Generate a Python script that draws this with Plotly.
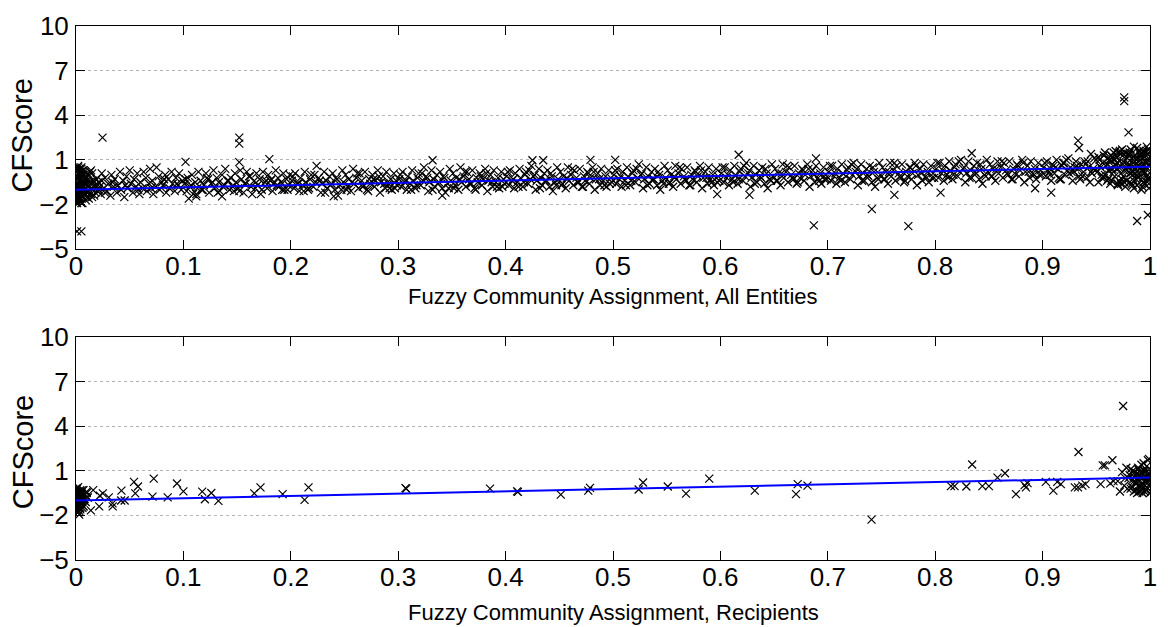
import plotly.graph_objects as go
from plotly.subplots import make_subplots

# ---------------- data: all entities (upper panel) ----------------
ent_x_a = [0.001, 0.002, 0.003, 0.001, 0.004, 0.002, 0.005, 0.003, 0.006, 0.002,
           0.001, 0.004, 0.003, 0.007, 0.002, 0.005, 0.001, 0.008, 0.004, 0.006,
           0.003, 0.002, 0.009, 0.005, 0.001, 0.007, 0.004, 0.010, 0.006, 0.002,
           0.011, 0.003, 0.008, 0.012, 0.005, 0.013, 0.009, 0.014, 0.007, 0.015,
           0.016, 0.010, 0.017, 0.012, 0.018, 0.011, 0.019, 0.014, 0.020, 0.016]
ent_y_a = [-1.9, 0.5, -0.4, -1.2, 0.2, -1.6, -0.8, 0.0, -1.4, -0.2,
           -0.6, -1.8, 0.4, -1.0, -1.3, 0.1, -0.9, -0.5, -1.5, 0.3,
           -1.1, -0.1, -1.3, -0.7, -1.5, 0.0, -0.3, -1.2, -0.9, -0.6,
           -0.4, -1.7, 0.2, -1.1, -1.4, -0.5, -0.2, -1.3, -0.8, 0.1,
           -1.0, -0.6, -1.4, 0.0, -0.7, -1.2, -0.3, -0.9, -1.1, -0.4]

ent_x_m = [0.000, 0.001, 0.002, 0.003, 0.004, 0.005, 0.006, 0.007, 0.008, 0.009,
           0.000, 0.001, 0.002, 0.003, 0.004, 0.005, 0.006, 0.007, 0.008, 0.010,
           0.001, 0.003, 0.005, 0.007, 0.009, 0.011, 0.013, 0.015, 0.017, 0.019,
           0.002, 0.004, 0.006, 0.008, 0.012, 0.014, 0.018, 0.021, 0.024, 0.027]
ent_y_m = [-1.7, 0.3, -1.0, -0.2, -1.6, 0.4, -0.5, -1.2, 0.0, -1.7,
           -0.8, -1.4, 0.6, -0.9, -0.1, -1.9, -1.1, 0.3, -0.6, -1.5,
           -0.3, -1.6, 0.5, -1.3, -0.2, -0.8, 0.2, -1.5, -0.5, -0.8,
           0.1, -1.0, -1.9, -0.3, -1.6, 0.3, -1.2, -1.0, -0.4, -1.2]

ent_x_b = [0.021, 0.023, 0.024, 0.026, 0.027, 0.029, 0.030, 0.032, 0.033, 0.035,
           0.036, 0.038, 0.039, 0.041, 0.042, 0.044, 0.045, 0.047, 0.048, 0.050,
           0.051, 0.053, 0.054, 0.056, 0.057, 0.059, 0.060, 0.062, 0.063, 0.065,
           0.066, 0.068, 0.069, 0.071, 0.072, 0.074, 0.075, 0.077, 0.078, 0.080,
           0.081, 0.083, 0.084, 0.086, 0.087, 0.089, 0.090, 0.092, 0.093, 0.095,
           0.096, 0.098, 0.099, 0.022, 0.034, 0.046, 0.058, 0.070, 0.082, 0.094]
ent_y_b = [-0.5, -1.3, 0.1, -0.9, -0.2, -1.1, -0.6, -1.4, 0.0, -0.8,
           -0.3, -1.2, -0.7, 0.2, -1.0, -0.4, -1.5, -0.1, -0.9, 0.3,
           -0.6, -1.2, -0.3, -0.8, 0.1, -1.3, -0.5, -0.9, 0.2, -0.2,
           -1.1, -0.6, 0.4, -0.4, -1.3, -0.8, 0.5, -0.1, -1.0, -0.5,
           -0.7, 0.0, -1.2, -0.3, -0.9, 0.2, -0.6, -1.1, -0.2, -0.7,
           0.1, -1.0, -0.4, -0.8, -0.5, -0.7, -1.0, -0.9, -0.3, -0.6]

ent_x_c = [0.101, 0.103, 0.104, 0.106, 0.108, 0.109, 0.111, 0.113, 0.114, 0.116,
           0.118, 0.119, 0.121, 0.123, 0.124, 0.126, 0.128, 0.129, 0.131, 0.133,
           0.134, 0.136, 0.138, 0.139, 0.141, 0.143, 0.144, 0.146, 0.148, 0.149,
           0.151, 0.153, 0.154, 0.156, 0.158, 0.159, 0.161, 0.163, 0.164, 0.166,
           0.168, 0.169, 0.171, 0.173, 0.174, 0.176, 0.178, 0.179, 0.181, 0.183,
           0.184, 0.186, 0.188, 0.189, 0.191, 0.193, 0.194, 0.196, 0.198, 0.199]
ent_y_c = [-0.6, -1.1, -0.2, -0.8, 0.0, -1.3, -0.5, -0.9, 0.2, -0.4,
           -1.0, -0.7, 0.1, -0.3, -1.2, -0.6, 0.3, -0.9, -0.2, -0.5,
           -1.1, 0.0, -0.7, 0.4, -0.4, -1.0, -0.2, -0.8, 0.1, -0.5,
           -0.9, 0.3, -0.3, -1.2, -0.6, 0.2, -0.1, -0.8, -1.3, -0.4,
           0.1, -0.7, -0.3, -1.0, 0.2, -0.5, -0.9, 0.0, -0.4, -1.1,
           -0.6, 0.3, -0.2, -0.8, -0.5, 0.1, -1.0, -0.3, -0.7, 0.0]

ent_x_d = [0.201, 0.203, 0.204, 0.206, 0.208, 0.209, 0.211, 0.213, 0.214, 0.216,
           0.218, 0.219, 0.221, 0.223, 0.224, 0.226, 0.228, 0.229, 0.231, 0.233,
           0.234, 0.236, 0.238, 0.239, 0.241, 0.243, 0.244, 0.246, 0.248, 0.249,
           0.251, 0.253, 0.254, 0.256, 0.258, 0.259, 0.261, 0.263, 0.264, 0.266,
           0.268, 0.269, 0.271, 0.273, 0.274, 0.276, 0.278, 0.279, 0.281, 0.283,
           0.284, 0.286, 0.288, 0.289, 0.291, 0.293, 0.294, 0.296, 0.298, 0.299]
ent_y_d = [-0.4, -0.9, 0.1, -0.6, -1.1, -0.2, -0.7, 0.2, -0.5, -1.0,
           -0.3, 0.0, -0.8, -0.5, 0.6, -0.2, -1.2, -0.6, 0.2, -0.4,
           -0.9, -0.1, -0.6, 0.1, -1.0, -0.3, -1.4, -0.7, 0.3, -0.5,
           0.0, -0.8, -0.3, -1.1, 0.4, -0.6, -0.2, -0.9, 0.1, -0.4,
           -0.7, 0.2, -1.0, -0.3, -0.6, 0.0, -0.8, -0.4, 0.3, -1.2,
           -0.5, -0.1, -0.9, 0.2, -0.6, -0.3, -1.0, 0.1, -0.4, -0.7]

ent_x_e = [0.301, 0.303, 0.304, 0.306, 0.308, 0.309, 0.311, 0.313, 0.314, 0.316,
           0.318, 0.319, 0.321, 0.323, 0.324, 0.326, 0.328, 0.329, 0.331, 0.333,
           0.334, 0.336, 0.338, 0.339, 0.341, 0.343, 0.344, 0.346, 0.348, 0.349,
           0.351, 0.353, 0.354, 0.356, 0.358, 0.359, 0.361, 0.363, 0.364, 0.366,
           0.368, 0.369, 0.371, 0.373, 0.374, 0.376, 0.378, 0.379, 0.381, 0.383,
           0.384, 0.386, 0.388, 0.389, 0.391, 0.393, 0.394, 0.396, 0.398, 0.399]
ent_y_e = [-0.3, -0.8, 0.2, -0.5, -1.0, -0.1, -0.6, 0.3, -0.4, -0.9,
           -0.2, 0.1, -0.7, -0.4, 0.5, -0.1, -1.1, -0.5, 0.3, -0.3,
           -0.8, 0.0, -0.5, 0.2, -0.9, -0.2, -1.2, -0.6, 0.4, -0.4,
           0.1, -0.7, -0.2, -1.0, 0.5, -0.5, -0.1, -0.8, 0.2, -0.3,
           -0.6, 0.3, -0.9, -0.2, -0.5, 0.1, -0.7, -0.3, 0.4, -1.1,
           -0.4, 0.0, -0.8, 0.3, -0.5, -0.2, -0.9, 0.2, -0.3, -0.6]

ent_x_f = [0.401, 0.403, 0.404, 0.406, 0.408, 0.409, 0.411, 0.413, 0.414, 0.416,
           0.418, 0.419, 0.421, 0.423, 0.424, 0.426, 0.428, 0.429, 0.431, 0.433,
           0.434, 0.436, 0.438, 0.439, 0.441, 0.443, 0.444, 0.446, 0.448, 0.449,
           0.451, 0.453, 0.454, 0.456, 0.458, 0.459, 0.461, 0.463, 0.464, 0.466,
           0.468, 0.469, 0.471, 0.473, 0.474, 0.476, 0.478, 0.479, 0.481, 0.483,
           0.484, 0.486, 0.488, 0.489, 0.491, 0.493, 0.494, 0.496, 0.498, 0.499]
ent_y_f = [-0.1, -0.7, 0.3, -0.4, -0.9, 0.1, -0.5, 0.4, -0.2, -0.8,
           0.0, 0.2, -0.6, -0.3, 0.6, -0.1, -1.0, -0.4, 0.4, -0.2,
           -0.7, 0.1, -0.4, 0.3, -0.8, -0.1, -1.1, -0.5, 0.5, -0.3,
           0.2, -0.6, -0.1, -0.9, 0.5, -0.4, 0.0, -0.7, 0.3, -0.2,
           -0.5, 0.4, -0.8, -0.1, -0.4, 0.2, -0.6, -0.2, 0.5, -1.0,
           -0.3, 0.1, -0.7, 0.4, -0.4, -0.1, -0.8, 0.3, -0.2, -0.5]

ent_x_g = [0.501, 0.503, 0.504, 0.506, 0.508, 0.509, 0.511, 0.513, 0.514, 0.516,
           0.518, 0.519, 0.521, 0.523, 0.524, 0.526, 0.528, 0.529, 0.531, 0.533,
           0.534, 0.536, 0.538, 0.539, 0.541, 0.543, 0.544, 0.546, 0.548, 0.549,
           0.551, 0.553, 0.554, 0.556, 0.558, 0.559, 0.561, 0.563, 0.564, 0.566,
           0.568, 0.569, 0.571, 0.573, 0.574, 0.576, 0.578, 0.579, 0.581, 0.583,
           0.584, 0.586, 0.588, 0.589, 0.591, 0.593, 0.594, 0.596, 0.598, 0.599]
ent_y_g = [0.0, -0.6, 0.4, -0.3, -0.8, 0.2, -0.4, 0.5, -0.1, -0.7,
           0.1, 0.3, -0.5, -0.2, 0.7, 0.0, -0.9, -0.3, 0.5, -0.1,
           -0.6, 0.2, -0.3, 0.4, -0.7, 0.0, -1.0, -0.4, 0.6, -0.2,
           0.3, -0.5, 0.0, -0.8, 0.6, -0.3, 0.1, -0.6, 0.4, -0.1,
           -0.4, 0.5, -0.7, 0.0, -0.3, 0.3, -0.5, -0.1, 0.6, -0.9,
           -0.2, 0.2, -0.6, 0.5, -0.3, 0.0, -0.7, 0.4, -0.1, -0.4]

ent_x_h = [0.601, 0.603, 0.604, 0.606, 0.608, 0.609, 0.611, 0.613, 0.614, 0.616,
           0.618, 0.619, 0.621, 0.623, 0.624, 0.626, 0.628, 0.629, 0.631, 0.633,
           0.634, 0.636, 0.638, 0.639, 0.641, 0.643, 0.644, 0.646, 0.648, 0.649,
           0.651, 0.653, 0.654, 0.656, 0.658, 0.659, 0.661, 0.663, 0.664, 0.666,
           0.668, 0.669, 0.671, 0.673, 0.674, 0.676, 0.678, 0.679, 0.681, 0.683,
           0.684, 0.686, 0.688, 0.689, 0.691, 0.693, 0.694, 0.696, 0.698, 0.699]
ent_y_h = [0.1, -0.5, 0.5, -0.2, -0.7, 0.3, -0.3, 0.6, 0.0, -0.6,
           0.2, 0.4, -0.4, -0.1, 0.8, 0.1, -0.8, -0.2, 0.6, 0.0,
           -0.5, 0.3, -0.2, 0.5, -0.6, 0.1, -0.9, -0.3, 0.7, -0.1,
           0.4, -0.4, 0.1, -0.7, 0.7, -0.2, 0.2, -0.5, 0.5, 0.0,
           -0.3, 0.6, -0.6, 0.1, -0.2, 0.4, -0.4, 0.0, 0.7, -0.8,
           -0.1, 0.3, -0.5, 0.6, -0.2, 0.1, -0.6, 0.5, 0.0, -0.3]

ent_x_i = [0.701, 0.703, 0.704, 0.706, 0.708, 0.709, 0.711, 0.713, 0.714, 0.716,
           0.718, 0.719, 0.721, 0.723, 0.724, 0.726, 0.728, 0.729, 0.731, 0.733,
           0.734, 0.736, 0.738, 0.739, 0.741, 0.743, 0.744, 0.746, 0.748, 0.749,
           0.751, 0.753, 0.754, 0.756, 0.758, 0.759, 0.761, 0.763, 0.764, 0.766,
           0.768, 0.769, 0.771, 0.773, 0.774, 0.776, 0.778, 0.779, 0.781, 0.783,
           0.784, 0.786, 0.788, 0.789, 0.791, 0.793, 0.794, 0.796, 0.798, 0.799]
ent_y_i = [0.2, -0.4, 0.6, -0.1, -0.6, 0.4, -0.2, 0.7, 0.1, -0.5,
           0.3, 0.5, -0.3, 0.0, 0.8, 0.2, -0.7, -0.1, 0.7, 0.1,
           -0.4, 0.4, -0.1, 0.6, -0.5, 0.2, -0.8, -0.2, 0.8, 0.0,
           0.5, -0.3, 0.2, -0.6, 0.8, -0.1, 0.3, -0.4, 0.6, 0.1,
           -0.2, 0.7, -0.5, 0.2, -0.1, 0.5, -0.3, 0.1, 0.8, -0.7,
           0.0, 0.4, -0.4, 0.7, -0.1, 0.2, -0.5, 0.6, 0.1, -0.2]

ent_x_j = [0.801, 0.803, 0.804, 0.806, 0.808, 0.809, 0.811, 0.813, 0.814, 0.816,
           0.818, 0.819, 0.821, 0.823, 0.824, 0.826, 0.828, 0.829, 0.831, 0.833,
           0.834, 0.836, 0.838, 0.839, 0.841, 0.843, 0.844, 0.846, 0.848, 0.849,
           0.851, 0.853, 0.854, 0.856, 0.858, 0.859, 0.861, 0.863, 0.864, 0.866,
           0.868, 0.869, 0.871, 0.873, 0.874, 0.876, 0.878, 0.879, 0.881, 0.883,
           0.884, 0.886, 0.888, 0.889, 0.891, 0.893, 0.894, 0.896, 0.898, 0.899]
ent_y_j = [0.4, -0.2, 0.8, 0.1, -0.4, 0.6, 0.0, 0.9, 0.3, -0.3,
           0.5, 0.7, -0.1, 0.2, 1.0, 0.4, -0.5, 0.1, 0.9, 0.3,
           -0.2, 0.6, 0.1, 0.8, -0.3, 0.4, -0.6, 0.0, 1.0, 0.2,
           0.7, -0.1, 0.4, -0.4, 0.9, 0.1, 0.5, -0.2, 0.8, 0.3,
           0.0, 0.9, -0.3, 0.4, 0.1, 0.7, -0.1, 0.3, 1.0, -0.5,
           0.2, 0.6, -0.2, 0.9, 0.1, 0.4, -0.3, 0.8, 0.3, 0.0]

# extra entities in the band between 0.1 and 0.9
ent_x_o = [0.107, 0.117, 0.127, 0.137, 0.147, 0.157, 0.167, 0.177, 0.187, 0.197,
           0.207, 0.217, 0.227, 0.237, 0.247, 0.257, 0.267, 0.277, 0.287, 0.297,
           0.307, 0.317, 0.327, 0.337, 0.347, 0.357, 0.367, 0.377, 0.387, 0.397,
           0.407, 0.417, 0.427, 0.437, 0.447, 0.457, 0.467, 0.477, 0.487, 0.497,
           0.507, 0.517, 0.527, 0.537, 0.547, 0.557, 0.567, 0.577, 0.587, 0.597,
           0.607, 0.617, 0.627, 0.637, 0.647, 0.657, 0.667, 0.677, 0.687, 0.697,
           0.707, 0.717, 0.727, 0.737, 0.747, 0.757, 0.767, 0.777, 0.787, 0.797,
           0.807, 0.817, 0.827, 0.837, 0.847, 0.857, 0.867, 0.877, 0.887, 0.897]
ent_y_o = [-0.7, -1.0, -0.5, -0.8, -1.1, -0.6, -0.9, -0.4, -0.7, -1.0,
           -0.6, -0.9, -0.4, -0.7, -1.0, -0.5, -0.8, -0.3, -0.6, -0.9,
           -0.4, -0.7, -0.2, -0.6, -0.9, -0.3, -0.6, -0.1, -0.5, -0.8,
           -0.3, -0.5, 0.0, -0.4, -0.7, -0.2, -0.5, 0.1, -0.3, -0.6,
           -0.1, -0.4, 0.1, -0.3, -0.6, -0.1, -0.3, 0.2, -0.2, -0.5,
           0.0, -0.3, 0.3, -0.1, -0.4, 0.1, -0.2, 0.3, 0.0, -0.3,
           0.1, -0.1, 0.4, 0.0, -0.3, 0.2, -0.1, 0.5, 0.1, -0.2,
           0.3, 0.0, 0.5, 0.2, -0.1, 0.4, 0.1, 0.6, 0.2, 0.0]

ent_x_p = [0.102, 0.112, 0.122, 0.132, 0.142, 0.152, 0.162, 0.172, 0.182, 0.192,
           0.202, 0.212, 0.222, 0.232, 0.242, 0.252, 0.262, 0.272, 0.282, 0.292,
           0.302, 0.312, 0.322, 0.332, 0.342, 0.352, 0.362, 0.372, 0.382, 0.392,
           0.402, 0.412, 0.422, 0.432, 0.442, 0.452, 0.462, 0.472, 0.482, 0.492,
           0.502, 0.512, 0.522, 0.532, 0.542, 0.552, 0.562, 0.572, 0.582, 0.592,
           0.602, 0.612, 0.622, 0.632, 0.642, 0.652, 0.662, 0.672, 0.682, 0.692,
           0.702, 0.712, 0.722, 0.732, 0.742, 0.752, 0.762, 0.772, 0.782, 0.792,
           0.802, 0.812, 0.822, 0.832, 0.842, 0.852, 0.862, 0.872, 0.882, 0.892]
ent_y_p = [-0.3, -1.3, -0.2, -1.2, -0.4, -1.1, -0.1, -1.3, -0.3, -1.0,
           -0.1, -1.1, 0.0, -1.2, -0.2, -1.0, 0.1, -1.1, -0.1, -0.9,
           0.0, -1.0, 0.1, -1.0, -0.1, -0.9, 0.2, -1.0, 0.1, -0.8,
           0.2, -0.8, 0.3, -0.9, 0.1, -0.7, 0.4, -0.8, 0.2, -0.7,
           0.3, -0.7, 0.4, -0.7, 0.2, -0.6, 0.5, -0.7, 0.3, -0.5,
           0.5, -0.5, 0.6, -0.6, 0.4, -0.4, 0.6, -0.5, 0.4, -0.4,
           0.6, -0.4, 0.7, -0.4, 0.5, -0.3, 0.8, -0.4, 0.6, -0.2,
           0.8, -0.2, 0.9, -0.2, 0.7, -0.1, 0.9, -0.3, 0.8, 0.0]

ent_x_k = [0.901, 0.903, 0.904, 0.906, 0.908, 0.909, 0.911, 0.913, 0.914, 0.916,
           0.918, 0.919, 0.921, 0.923, 0.924, 0.926, 0.928, 0.929, 0.931, 0.933,
           0.934, 0.936, 0.938, 0.939, 0.941, 0.943, 0.944, 0.946, 0.948, 0.949,
           0.902, 0.907, 0.912, 0.917, 0.922, 0.927, 0.932, 0.937, 0.942, 0.947,
           0.905, 0.910, 0.915, 0.920, 0.925, 0.930, 0.935, 0.940, 0.945, 0.950]
ent_y_k = [0.5, -0.1, 0.9, 0.2, -0.4, 0.7, 0.1, 1.0, 0.4, -0.3,
           0.6, 0.8, 0.0, 0.3, 1.1, 0.5, -0.4, 0.2, 0.9, 0.4,
           -0.1, 0.7, 0.2, 0.9, -0.2, 0.5, -0.5, 0.1, 1.1, 0.3,
           0.8, 0.0, 0.5, -0.3, 1.0, 0.2, 0.6, -0.1, 0.9, 0.4,
           0.3, 0.6, -0.2, 0.8, 0.1, 0.5, -0.3, 0.7, 0.2, 1.0]

ent_x_l = [0.951, 0.952, 0.953, 0.954, 0.955, 0.956, 0.957, 0.958, 0.959, 0.960,
           0.961, 0.962, 0.963, 0.964, 0.965, 0.966, 0.967, 0.968, 0.969, 0.970,
           0.971, 0.972, 0.973, 0.974, 0.975, 0.976, 0.977, 0.978, 0.979, 0.980,
           0.981, 0.982, 0.983, 0.984, 0.985, 0.986, 0.987, 0.988, 0.989, 0.990,
           0.991, 0.992, 0.993, 0.994, 0.995, 0.996, 0.997, 0.998, 0.999, 1.000,
           0.952, 0.955, 0.958, 0.961, 0.964, 0.967, 0.970, 0.973, 0.976, 0.979,
           0.982, 0.985, 0.988, 0.991, 0.994, 0.997, 0.999, 0.953, 0.957, 0.962,
           0.966, 0.971, 0.975, 0.980, 0.984, 0.989, 0.993, 0.996, 0.998, 1.000,
           0.981, 0.983, 0.986, 0.988, 0.990, 0.992, 0.994, 0.995, 0.997, 0.999,
           0.984, 0.987, 0.991, 0.993, 0.996, 0.998, 0.985, 0.989, 0.992, 0.995]
ent_y_l = [0.2, -0.5, 1.0, 0.5, -0.2, 0.8, 1.3, 0.0, 0.6, -0.4,
           1.1, 0.3, -0.6, 0.9, 0.4, 1.5, -0.1, 0.7, 1.2, -0.7,
           0.5, 1.6, 0.1, -0.3, 0.9, 1.4, -0.8, 0.3, 1.1, 0.6,
           -0.5, 1.7, 0.2, 0.8, -0.9, 1.3, 0.4, 1.8, -0.2, 0.6,
           1.0, -1.0, 0.3, 1.5, -0.6, 0.9, 1.9, -0.3, 0.7, 1.2,
           1.2, 0.0, 1.5, 0.3, -0.4, 1.0, 0.4, 1.4, -0.5, 0.8,
           0.1, 1.2, -0.7, 0.5, 1.6, -0.1, 0.9, 0.6, -0.2, 1.0,
           1.1, -0.4, 0.7, 1.3, 0.0, 1.1, -0.8, 0.4, 1.4, -0.3,
           1.5, -0.6, 0.7, 0.0, 1.6, 0.3, -0.5, 1.2, 0.5, -0.9,
           0.2, 1.0, 1.4, -0.2, 0.8, 1.7, -0.4, 0.6, 1.1, 0.1]

ent_x_n = [0.960, 0.962, 0.964, 0.966, 0.968, 0.970, 0.972, 0.974, 0.976, 0.978,
           0.980, 0.982, 0.984, 0.986, 0.988, 0.990, 0.992, 0.994, 0.996, 0.998,
           0.961, 0.965, 0.969, 0.973, 0.977, 0.981, 0.985, 0.989, 0.993, 0.997,
           0.963, 0.967, 0.971, 0.975, 0.979, 0.983, 0.987, 0.991, 0.995, 0.999]
ent_y_n = [0.7, -0.2, 1.3, 0.2, 1.6, -0.6, 0.9, 1.7, 0.3, -0.4,
           1.4, 0.6, -0.7, 1.1, 0.2, 1.6, 0.5, -0.5, 1.3, 0.0,
           -0.3, 1.2, 0.8, -0.6, 1.5, 0.1, 1.9, -0.1, 0.7, 1.6,
           1.0, 0.5, 1.5, -0.1, 0.6, 1.1, -0.3, 1.3, 0.2, -0.6]

# isolated entities away from the main band
ent_out_x = [0.0247, 0.001, 0.005, 0.152, 0.152, 0.152, 0.102, 0.180, 0.105, 0.112,
             0.136, 0.240, 0.332, 0.341, 0.425, 0.435, 0.479, 0.502, 0.597, 0.617,
             0.627, 0.687, 0.689, 0.741, 0.762, 0.775, 0.805, 0.834, 0.893, 0.908,
             0.933, 0.934, 0.945, 0.976, 0.976, 0.980, 0.988, 0.998]
ent_out_y = [2.5, -3.8, -3.8, 2.5, 2.1, 0.85, 0.87, 1.05, -1.6, -1.45,
             -1.45, -1.45, 0.98, -1.4, 0.98, 0.98, 1.0, 1.0, -1.3, 1.35,
             -1.35, -3.4, 1.1, -2.3, -1.35, -3.45, -1.2, 1.45, -0.9, -1.2,
             2.3, 1.8, 1.4, 5.2, 4.95, 2.85, -3.1, -2.7]

# ---------------- data: recipients (lower panel) ----------------
rec_x = [0.054, 0.0577, 0.0552, 0.0724, 0.094, 0.100, 0.1175, 0.120, 0.126, 0.1326,
         0.166, 0.1718, 0.1924, 0.2128, 0.2165, 0.0712, 0.0854, 0.0423, 0.042, 0.0453,
         0.0342, 0.034, 0.0216, 0.0222, 0.016, 0.0138, 0.025, 0.0305, 0.0099, 0.003,
         0.3068, 0.3075, 0.3855, 0.4107, 0.4115, 0.4514, 0.4786, 0.477, 0.5239, 0.528,
         0.551, 0.568, 0.5896, 0.632, 0.6704, 0.672, 0.6811, 0.7407, 0.8147, 0.818,
         0.829, 0.8344, 0.8439, 0.850, 0.858, 0.865, 0.8752, 0.8832, 0.886, 0.8845,
         0.903, 0.910, 0.9136, 0.917, 0.930, 0.933, 0.937, 0.940, 0.9334, 0.954,
         0.956, 0.958, 0.965, 0.963, 0.966, 0.975]
rec_y = [0.25, -0.06, -0.52, 0.47, 0.14, -0.39, -0.41, -0.92, -0.5, -1.03,
         -0.52, -0.12, -0.57, -0.96, -0.12, -0.74, -0.79, -0.34, -1.0, -1.0,
         -1.4, -1.2, -1.4, -0.68, -0.3, -1.67, -0.52, -0.79, -0.41, -1.95,
         -0.17, -0.2, -0.2, -0.39, -0.42, -0.61, -0.15, -0.34, -0.26, 0.21,
         -0.06, -0.54, 0.47, -0.34, -0.57, 0.1, 0.0, -2.29, -0.04, -0.04,
         -0.06, 1.42, -0.04, -0.04, 0.54, 0.83, -0.57, 0.03, 0.17, -0.12,
         0.25, -0.34, 0.25, 0.1, -0.12, -0.12, 0.0, 0.1, 2.26, 0.1,
         1.36, 1.36, 1.7, 0.15, 0.3, 5.35]

rec_x_low = [0.001, 0.002, 0.003, 0.001, 0.004, 0.002, 0.005, 0.003, 0.006, 0.001,
             0.002, 0.004, 0.007, 0.003, 0.005, 0.001, 0.008, 0.002, 0.006, 0.004,
             0.009, 0.003, 0.010, 0.005, 0.002, 0.007, 0.011, 0.004, 0.001, 0.006,
             0.000, 0.001, 0.002, 0.003, 0.004, 0.005, 0.006, 0.000, 0.002, 0.004,
             0.001, 0.003, 0.005, 0.007, 0.000, 0.002]
rec_y_low = [-0.2, -1.5, -0.8, -1.1, -0.4, -1.8, -0.6, -1.3, -0.9, -0.5,
             -1.0, -1.6, -0.3, -0.7, -1.2, -1.4, -0.9, -0.1, -1.5, -0.6,
             -1.1, -1.7, -0.5, -0.9, -1.2, -1.4, -0.8, -0.3, -0.9, -1.1,
             -0.9, -0.4, -1.3, -0.7, -1.5, -1.0, -0.3, -1.6, -0.6, -1.2,
             -0.8, -1.0, -0.5, -1.4, -0.2, -1.8]

rec_x_high = [0.970, 0.972, 0.974, 0.976, 0.978, 0.980, 0.982, 0.984, 0.986, 0.988,
              0.990, 0.992, 0.994, 0.996, 0.998, 1.000, 0.985, 0.987, 0.989, 0.991,
              0.993, 0.995, 0.997, 0.999, 0.983, 0.986, 0.990, 0.994, 0.998, 0.996,
              0.992, 0.988, 0.984, 0.981, 0.979, 0.999, 0.997, 0.993, 0.989, 0.987,
              0.995, 0.991, 0.986, 0.998, 1.000, 0.994, 0.990, 0.985, 0.982, 0.977,
              0.988, 0.990, 0.992, 0.994, 0.996, 0.998, 1.000, 0.989, 0.991, 0.993,
              0.995, 0.997, 0.999, 0.987, 0.985, 0.997]
rec_y_high = [0.3, -0.4, 0.9, 0.0, 1.2, 0.5, -0.2, 1.0, 0.2, -0.5,
              0.7, 1.4, -0.1, 0.4, 1.7, 0.1, 0.6, -0.3, 1.1, 0.0,
              0.8, -0.4, 1.3, 0.5, -0.1, 0.9, 0.3, 1.0, -0.2, 0.6,
              -0.3, 0.8, 0.4, 0.7, -0.2, 1.8, 0.2, 0.5, 1.2, 0.1,
              1.0, -0.1, 0.7, 0.4, -0.5, 1.5, 0.6, 0.3, 1.1, 0.5,
              0.4, -0.4, 0.6, 0.1, -0.3, 0.8, 0.5, 0.0, 0.9, -0.5,
              0.3, -0.1, 0.7, 0.2, -0.4, 1.0]

# least-squares fit lines (endpoints at x = 0 and x = 1)
fit_x = [0.0, 1.0]
fit_y_entities = [-1.0, 0.55]
fit_y_recipients = [-1.0, 0.54]

# axis ticks
y_ticks = [-5, -2, 1, 4, 7, 10]
y_tick_text = ["\u22125", "\u22122", "1", "4", "7", "10"]
x_ticks = [0, 0.1, 0.2, 0.3, 0.4, 0.5, 0.6, 0.7, 0.8, 0.9, 1]
x_tick_text = ["0", "0.1", "0.2", "0.3", "0.4", "0.5", "0.6", "0.7", "0.8", "0.9", "1"]

titles_x = ["Fuzzy Community Assignment, All Entities",
            "Fuzzy Community Assignment, Recipients"]
title_y = "CFScore"

# ---------------- figure ----------------
W, H = 1168, 627
M_L, M_R, M_T, M_B = 76, 11, 17, 67
panel_h = 227
plot_w = W - M_L - M_R
plot_h = H - M_T - M_B
top_lo = 1 - panel_h / plot_h
bot_hi = panel_h / plot_h

fig = make_subplots(rows=2, cols=1)

ent_x = (ent_x_a + ent_x_m + ent_x_b + ent_x_c + ent_x_d + ent_x_e + ent_x_f +
         ent_x_g + ent_x_h + ent_x_i + ent_x_j + ent_x_o + ent_x_p + ent_x_k +
         ent_x_l + ent_x_n + ent_out_x)
ent_y = (ent_y_a + ent_y_m + ent_y_b + ent_y_c + ent_y_d + ent_y_e + ent_y_f +
         ent_y_g + ent_y_h + ent_y_i + ent_y_j + ent_y_o + ent_y_p + ent_y_k +
         ent_y_l + ent_y_n + ent_out_y)
rec_all_x = rec_x_low + rec_x + rec_x_high
rec_all_y = rec_y_low + rec_y + rec_y_high

cross = dict(symbol="x-thin", size=8, color="black", line=dict(width=1.2, color="black"))

fig.add_trace(go.Scatter(x=ent_x, y=ent_y, mode="markers", marker=cross,
                         showlegend=False, hoverinfo="skip"), row=1, col=1)
fig.add_trace(go.Scatter(x=fit_x, y=fit_y_entities, mode="lines",
                         line=dict(color="#0000ff", width=2),
                         showlegend=False), row=1, col=1)
fig.add_trace(go.Scatter(x=rec_all_x, y=rec_all_y, mode="markers", marker=cross,
                         showlegend=False, hoverinfo="skip"), row=2, col=1)
fig.add_trace(go.Scatter(x=fit_x, y=fit_y_recipients, mode="lines",
                         line=dict(color="#0000ff", width=2),
                         showlegend=False), row=2, col=1)

font_family = "Liberation Sans, Arial, Helvetica, sans-serif"

common_x = dict(range=[0, 1], tickmode="array", tickvals=x_ticks, ticktext=x_tick_text,
                ticks="inside", ticklen=9, tickwidth=1, tickcolor="black",
                showline=True, linecolor="black", linewidth=1, mirror="allticks",
                showgrid=False, zeroline=False, ticklabelstandoff=-6,
                tickfont=dict(family=font_family, size=26, color="black"))
common_y = dict(range=[-5, 10], tickmode="array", tickvals=y_ticks, ticktext=y_tick_text,
                ticks="inside", ticklen=9, tickwidth=1, tickcolor="black",
                showline=True, linecolor="black", linewidth=1, mirror="allticks",
                showgrid=True, gridcolor="#b4b4b4", griddash="dot", gridwidth=1,
                zeroline=False, ticklabelstandoff=1,
                tickfont=dict(family=font_family, size=26, color="black"))

fig.update_xaxes(**common_x)
fig.update_yaxes(**common_y)

# axis titles placed as paper annotations (pixel centres converted to paper units)
title_font_x = dict(family=font_family, size=22, color="black")
title_font_y = dict(family=font_family, size=29, color="black")
x_title_centres = [292, 613]
y_title_centres = [128, 450]
for txt, yc in zip(titles_x, x_title_centres):
    fig.add_annotation(text=txt, xref="paper", yref="paper", x=0.5,
                       y=(H - M_B - yc) / plot_h, xanchor="center", yanchor="middle",
                       showarrow=False, font=title_font_x)
for yc in y_title_centres:
    fig.add_annotation(text=title_y, xref="paper", yref="paper",
                       x=(22 - M_L) / plot_w, y=(H - M_B - yc) / plot_h,
                       xanchor="center", yanchor="middle", textangle=-90,
                       showarrow=False, font=title_font_y)

fig.update_layout(
    width=W, height=H,
    margin=dict(l=M_L, r=M_R, t=M_T, b=M_B),
    paper_bgcolor="white", plot_bgcolor="white",
    font=dict(family=font_family, color="black"),
    yaxis=dict(domain=[top_lo, 1]),
    yaxis2=dict(domain=[0, bot_hi]),
)

fig.write_html("out.html")
